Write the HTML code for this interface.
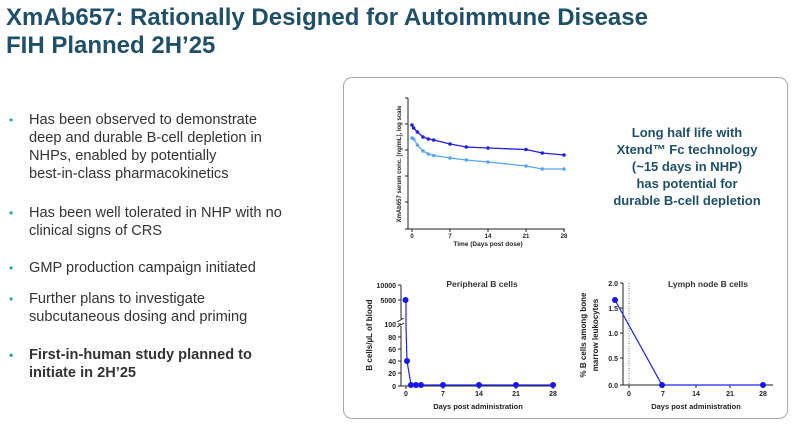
<!DOCTYPE html>
<html><head><meta charset="utf-8"><style>
body{margin:0;width:800px;height:427px;background:#fff;font-family:"Liberation Sans",Arial,sans-serif;overflow:hidden;position:relative}
.t{position:absolute;left:6px;top:4px;font-size:24px;font-weight:bold;color:#1f5068;line-height:28px;white-space:nowrap}
.b{position:absolute;left:29px;font-size:14.6px;color:#333;line-height:18px;white-space:nowrap}
.b:before{content:"•";position:absolute;left:-20px;color:#26a5b0;font-size:12px}
.p{position:absolute;left:343px;top:77px;width:443px;height:340px;border:1px solid #a8a8a8;border-radius:9px}
</style></head><body>
<div class="t">XmAb657: Rationally Designed for Autoimmune Disease<br>FIH Planned 2H’25</div>
<div class="b" style="top:111px">Has been observed to demonstrate<br>deep and durable B-cell depletion in<br>NHPs, enabled by potentially<br>best-in-class pharmacokinetics</div>
<div class="b" style="top:204px">Has been well tolerated in NHP with no<br>clinical signs of CRS</div>
<div class="b" style="top:259px">GMP production campaign initiated</div>
<div class="b" style="top:290px">Further plans to investigate<br>subcutaneous dosing and priming</div>
<div class="b" style="top:346px;font-weight:bold">First-in-human study planned to<br>initiate in 2H’25</div>
<div class="p"></div>
<svg width="800" height="427" style="position:absolute;left:0;top:0" font-family="Liberation Sans,Arial,sans-serif" font-weight="bold">
<g stroke="#222" stroke-width="1" fill="none">
<path d="M408 98V229H565"/>
<path d="M405 98h3M405 124h3M405 150h3M405 176h3M405 202h3M405 229h3"/>
<path d="M412 229v3M450 229v3M488 229v3M526 229v3M564 229v3"/>
</g>
<g font-size="6" fill="#222" text-anchor="middle"><text x="412" y="238">0</text><text x="450" y="238">7</text><text x="488" y="238">14</text><text x="526" y="238">21</text><text x="564" y="238">28</text>
<text x="488" y="246" font-size="6.5">Time (Days post dose)</text>
<text transform="translate(401,164) rotate(-90)" font-size="6">XmAb657 serum conc. [ng/mL], log scale</text></g>
<polyline fill="none" stroke="#2121d8" stroke-width="1.3" points="412,125 413.6,128 417.4,132 423,137 428.3,139 433.7,140 450,144 466.3,147 488,148 526,149.5 542.3,153 564,155"/>
<g fill="#2121d8"><circle cx="412" cy="125" r="1.8"/><circle cx="413.6" cy="128" r="1.8"/><circle cx="417.4" cy="132" r="1.8"/><circle cx="423" cy="137" r="1.8"/><circle cx="428.3" cy="139" r="1.8"/><circle cx="433.7" cy="140" r="1.8"/><circle cx="450" cy="144" r="1.8"/><circle cx="466.3" cy="147" r="1.8"/><circle cx="488" cy="148" r="1.8"/><circle cx="526" cy="149.5" r="1.8"/><circle cx="542.3" cy="153" r="1.8"/><circle cx="564" cy="155" r="1.8"/></g>
<polyline fill="none" stroke="#5aa7f0" stroke-width="1.3" points="412,138 413.6,139 417.4,145 423,151 428.3,154 433.7,155.5 450,158 466.3,160 488,162 526,166 542.3,169 564,169"/>
<g fill="#5aa7f0"><circle cx="412" cy="138" r="1.8"/><circle cx="413.6" cy="139" r="1.8"/><circle cx="417.4" cy="145" r="1.8"/><circle cx="423" cy="151" r="1.8"/><circle cx="428.3" cy="154" r="1.8"/><circle cx="433.7" cy="155.5" r="1.8"/><circle cx="450" cy="158" r="1.8"/><circle cx="466.3" cy="160" r="1.8"/><circle cx="488" cy="162" r="1.8"/><circle cx="526" cy="166" r="1.8"/><circle cx="542.3" cy="169" r="1.8"/><circle cx="564" cy="169" r="1.8"/></g>
<g font-size="13" fill="#1f5068" text-anchor="middle"><text x="687" y="137">Long half life with</text><text x="687" y="154">Xtend™ Fc technology</text><text x="687" y="171">(~15 days in NHP)</text><text x="687" y="188">has potential for</text><text x="687" y="205">durable B-cell depletion</text></g>
<g stroke="#222" stroke-width="1" fill="none">
<path d="M401 285V319M401 326V386H555"/>
<path d="M397 322l7-4M397 327l7-4"/>
<path d="M398 285h3M398 300h3M398 324h3M398 337h3M398 349h3M398 361h3M398 373h3M398 386h3"/>
<path d="M406 386v3M443 386v3M479 386v3M516 386v3M553 386v3"/>
</g>
<g font-size="7" fill="#222" text-anchor="end"><text x="396" y="288">10000</text><text x="396" y="303">5000</text><text x="396" y="327">100</text><text x="396" y="340">80</text><text x="396" y="352">60</text><text x="396" y="364">40</text><text x="396" y="376">20</text><text x="396" y="389">0</text></g>
<g font-size="7" fill="#222" text-anchor="middle"><text x="406" y="396">0</text><text x="443" y="396">7</text><text x="479" y="396">14</text><text x="516" y="396">21</text><text x="553" y="396">28</text>
<text x="478" y="409" font-size="7.5">Days post administration</text>
<text x="482" y="287" font-size="8.5" fill="#333">Peripheral B cells</text>
<text transform="translate(372,335) rotate(-90)" font-size="8">B cells/µL of blood</text></g>
<polyline fill="none" stroke="#2121f0" stroke-width="1.2" points="406,300 406,319 406,326 407,361 411,385 416,385 421,385 554,385"/>
<g fill="#1616ee"><circle cx="405.5" cy="300" r="3"/><circle cx="407" cy="361" r="3"/><circle cx="411" cy="385" r="3"/><circle cx="416" cy="385" r="3"/><circle cx="421" cy="385" r="3"/><circle cx="443" cy="385" r="3"/><circle cx="479" cy="385" r="3"/><circle cx="516" cy="385" r="3"/><circle cx="553" cy="385" r="3"/></g>
<g stroke="#222" stroke-width="1" fill="none">
<path d="M623 283V385H773"/>
<path d="M620 283h3M620 308h3M620 333h3M620 358h3M620 385h3"/>
<path d="M629 385v3M663 385v3M696 385v3M730 385v3M763 385v3"/>
<path d="M629 283V385" stroke-dasharray="1,1.5" stroke="#777"/>
</g>
<g font-size="7" fill="#222" text-anchor="end"><text x="618" y="286">2.0</text><text x="618" y="311">1.5</text><text x="618" y="336">1.0</text><text x="618" y="361">0.5</text><text x="618" y="388">0.0</text></g>
<g font-size="7" fill="#222" text-anchor="middle"><text x="629" y="396">0</text><text x="663" y="396">7</text><text x="696" y="396">14</text><text x="730" y="396">21</text><text x="763" y="396">28</text>
<text x="696" y="409" font-size="7.5">Days post administration</text>
<text x="708" y="287" font-size="8.5" fill="#333">Lymph node B cells</text>
<text transform="translate(586,335) rotate(-90)" font-size="8">% B cells among bone</text>
<text transform="translate(598,335) rotate(-90)" font-size="8">marrow leukocytes</text></g>
<polyline fill="none" stroke="#2121f0" stroke-width="1.2" points="615,300 662,385 763,385"/>
<g fill="#1616ee"><circle cx="615" cy="300" r="3"/><circle cx="662" cy="385" r="3"/><circle cx="763" cy="385" r="3"/></g>
</svg>
</body></html>
